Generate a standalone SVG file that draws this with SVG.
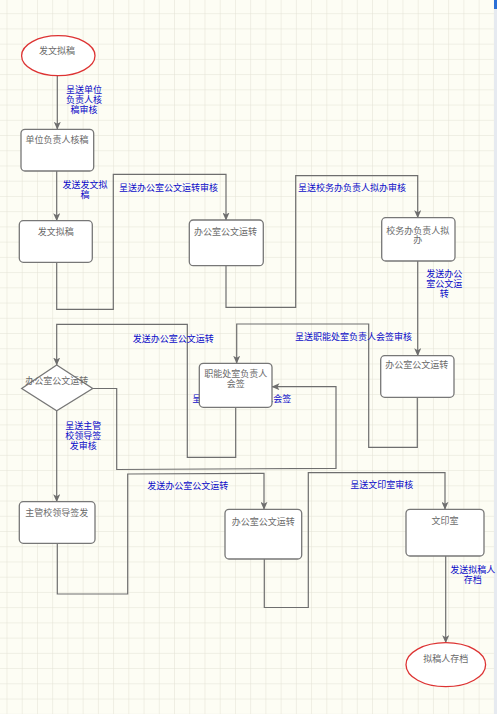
<svg xmlns="http://www.w3.org/2000/svg" width="497" height="714" viewBox="0 0 497 714">
<defs>
<pattern id="grid" x="6.5" y="13.2" width="15.23" height="15.23" patternUnits="userSpaceOnUse">
<path d="M0,0 H15.23 M0,0 V15.23" fill="none" stroke="#e2e1d4" stroke-width="1"/>
</pattern>
<marker id="arr" markerUnits="userSpaceOnUse" markerWidth="8" markerHeight="7" refX="7.5" refY="3.5" orient="auto">
<path d="M0,0 L8,3.5 L0,7 L2,3.5 z" fill="#6e6e6e"/>
</marker>
<style>
.bg{fill:#fdfdf4}
.box{fill:#ffffff;stroke:#777777;stroke-width:1.3}
.term{fill:#ffffff;stroke:#dd3333;stroke-width:1.3}
.t{font-family:"Noto Sans CJK SC","Noto Sans",sans-serif;font-size:9px;fill:#6a6a6a;text-anchor:middle}
.l{font-family:"Noto Sans CJK SC","Noto Sans",sans-serif;font-size:9px;fill:#0a0ac8;text-anchor:middle}
.e{fill:none;stroke:#6e6e6e;stroke-width:1.2}
</style>
</defs>
<rect class="bg" x="0" y="0" width="497" height="714"/>
<rect x="0" y="0" width="497" height="714" fill="url(#grid)"/>
<rect x="494" y="0" width="3" height="714" fill="#e6eaf0"/>
<rect x="494" y="0" width="3" height="9" fill="#2a6fd6"/>

<g id="connectors">
<path class="e" d="M57.3,75.7 V129.3" marker-end="url(#arr)"/>
<text class="l" x="84" y="93.4">呈送单位<tspan x="84" dy="10">负责人核</tspan><tspan x="84" dy="9.5">稿审核</tspan></text>

<path class="e" d="M56.7,171 V220.7" marker-end="url(#arr)"/>
<text class="l" x="85" y="188.4">发送发文拟<tspan x="85" dy="10">稿</tspan></text>

<path class="e" d="M56.7,262.3 V309.3 H113.3 V174.3 H226 V220" marker-end="url(#arr)"/>
<text class="l" x="168.5" y="190.7">呈送办公室公文运转审核</text>

<path class="e" d="M226,265.7 V307.3 H295.7 V175.7 H417.7 V217.7" marker-end="url(#arr)"/>
<text class="l" x="352" y="191.1">呈送校务办负责人拟办审核</text>

<path class="e" d="M417.7,261 V355.7" marker-end="url(#arr)"/>
<text class="l" x="444.3" y="277.4">发送办公<tspan x="444.3" dy="10">室公文运</tspan><tspan x="444.3" dy="10">转</tspan></text>

<path class="e" d="M417.3,397.3 V447.3 H368.7 V324 H236.7 V363.3" marker-end="url(#arr)"/>
<text class="l" x="353.5" y="340.1">呈送职能处室负责人会签审核</text>

<path class="e" d="M235.7,407.3 V457.3 H187.3 V324.3 H56.7 V365" marker-end="url(#arr)"/>
<text class="l" x="173.3" y="341.7">发送办公室公文运转</text>

<path class="e" d="M92.7,388.5 H116.7 V469.5 L336,468.3 V386.7 H272" marker-end="url(#arr)"/>
<text class="l" x="241.7" y="401.7">呈送职能处室负责人会签</text>

<path class="e" d="M56.7,410.7 V501.7" marker-end="url(#arr)"/>
<text class="l" x="83.3" y="429.1">呈送主管<tspan x="83.3" dy="10">校领导签</tspan><tspan x="83.3" dy="10">发审核</tspan></text>

<path class="e" d="M57.3,543.3 V594 H127.7 V474 L264,473.3 V509.3" marker-end="url(#arr)"/>
<text class="l" x="187.7" y="489.4">发送办公室公文运转</text>

<path class="e" d="M264.3,559 V607.5 H308.3 V472.7 H445 V509.3" marker-end="url(#arr)"/>
<text class="l" x="381.8" y="488.4">呈送文印室审核</text>

<path class="e" d="M445.7,556 V642.7" marker-end="url(#arr)"/>
<text class="l" x="472.7" y="572.7">发送拟稿人<tspan x="472.7" dy="10">存档</tspan></text>
</g>

<g id="start">
<ellipse class="term" cx="58.3" cy="55.7" rx="36.7" ry="20"/>
<text class="t" x="57" y="54.4">发文拟稿</text>
</g>
<g id="n1">
<rect class="box" x="21" y="129.3" width="72.7" height="41.7" rx="4"/>
<text class="t" x="57" y="143.4">单位负责人核稿</text>
</g>
<g id="n2">
<rect class="box" x="19.3" y="220.7" width="73" height="41.6" rx="4"/>
<text class="t" x="55.7" y="235.4">发文拟稿</text>
</g>
<g id="n3">
<rect class="box" x="189.3" y="220" width="74" height="45.7" rx="4"/>
<text class="t" x="225.5" y="235.1">办公室公文运转</text>
</g>
<g id="n4">
<rect class="box" x="381.7" y="217.7" width="73.3" height="43.3" rx="4"/>
<text class="t" x="417.7" y="234.1">校务办负责人拟<tspan x="417.7" dy="9.3">办</tspan></text>
</g>
<g id="n5">
<rect class="box" x="380.7" y="355.7" width="73.3" height="41.6" rx="4"/>
<text class="t" x="416.7" y="368.4">办公室公文运转</text>
</g>
<g id="n6">
<rect class="box" x="199.3" y="363.3" width="72.7" height="44" rx="4"/>
<text class="t" x="235.7" y="377.4">职能处室负责人<tspan x="235.7" dy="10">会签</tspan></text>
</g>
<g id="decision">
<polygon class="box" points="56.7,365 92.7,388.5 56.7,410.7 21.7,388.5"/>
<text class="t" x="56.7" y="384.4">办公室公文运转</text>
</g>
<g id="n7">
<rect class="box" x="19.3" y="501.7" width="75.7" height="41.6" rx="4"/>
<text class="t" x="56.7" y="516.1">主管校领导签发</text>
</g>
<g id="n8">
<rect class="box" x="225" y="509.3" width="76.7" height="49.7" rx="4"/>
<text class="t" x="263.3" y="525.1">办公室公文运转</text>
</g>
<g id="n9">
<rect class="box" x="406" y="509.3" width="78" height="46.7" rx="4"/>
<text class="t" x="445" y="524.1">文印室</text>
</g>
<g id="end">
<ellipse class="term" cx="445.8" cy="664.7" rx="39.8" ry="22"/>
<text class="t" x="445.7" y="661.7">拟稿人存档</text>
</g>
</svg>
